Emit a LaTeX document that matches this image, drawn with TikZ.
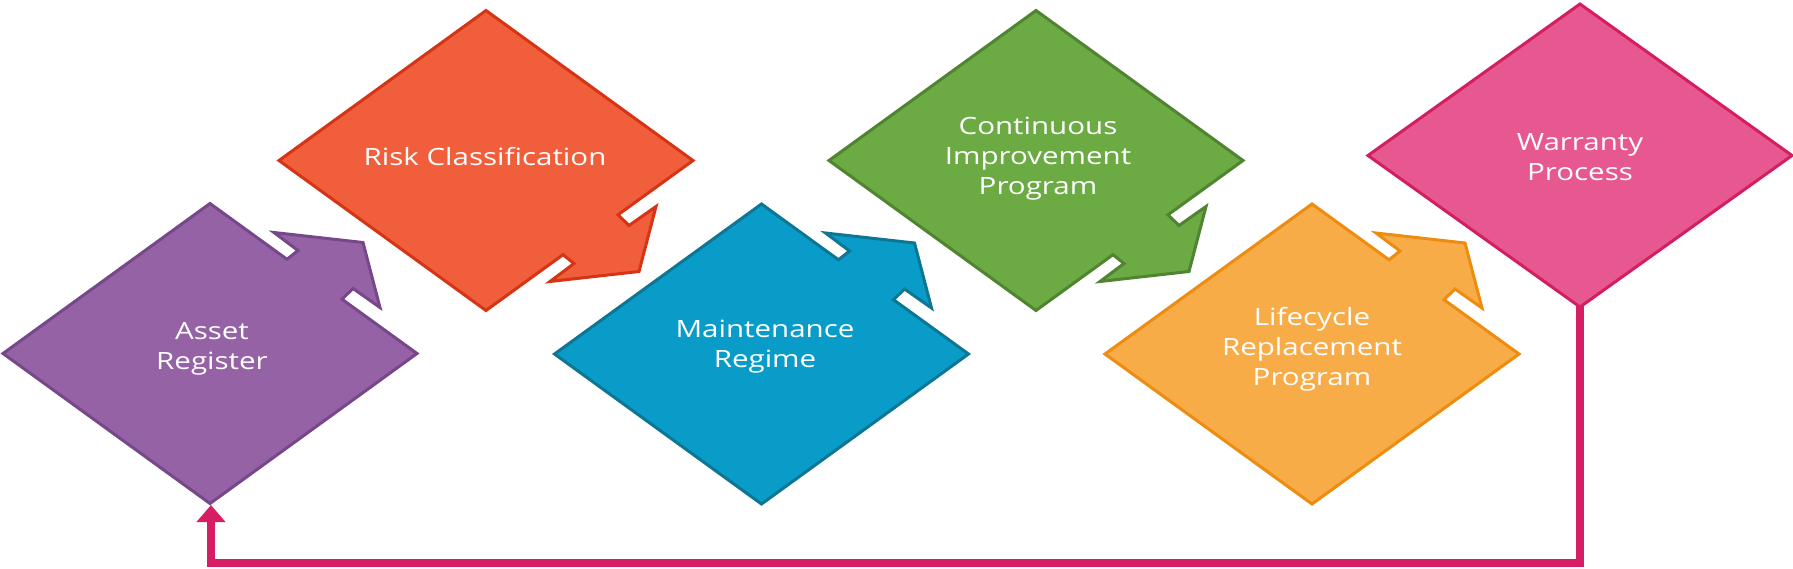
\documentclass[tikz,border=0pt]{standalone}
\usepackage{fontspec}
\newfontfamily\lab[FakeStretch=1.24]{Open Sans}
\usetikzlibrary{arrows.meta}
\definecolor{purpF}{HTML}{9662A6}
\definecolor{purpD}{HTML}{76488A}
\definecolor{redF}{HTML}{F05E3C}
\definecolor{redD}{HTML}{D63414}
\definecolor{blueF}{HTML}{099CC8}
\definecolor{blueD}{HTML}{0C7694}
\definecolor{greenF}{HTML}{6CAA44}
\definecolor{greenD}{HTML}{508430}
\definecolor{orangeF}{HTML}{F8AC48}
\definecolor{orangeD}{HTML}{EE8C10}
\definecolor{pinkF}{HTML}{E85890}
\definecolor{pinkD}{HTML}{D41E62}
\definecolor{connC}{HTML}{D61E64}
\newcommand\arrowshape{(-207,0) -- (0,-150) -- (77,-94.2) -- (88,-103) -- (64,-121) -- (153,-111) -- (170,-46) -- (143,-65) -- (132,-54.3) -- (207,0) -- (0,150) -- cycle}
\begin{document}
\begin{tikzpicture}[x=0.5pt,y=-0.5pt,
  shp/.style={line width=1.5pt, line join=miter},
  lbl/.style={text=white, font=\lab\fontsize{11.9pt}{15pt}\selectfont, align=center, anchor=base, inner sep=0pt},
  conn/.style={connC, line width=4pt, line join=miter, -{Triangle[width=14pt,length=8.5pt]}}]
\useasboundingbox (0,0) rectangle (1793,568);
% connector coordinates
\coordinate (warB) at (1580,295);
\coordinate (c1) at (1580,563);
\coordinate (c2) at (211,563);
\coordinate (assetB) at (211,505);
\draw[conn] (warB) -- (c1) -- (c2) -- (assetB);
% shapes
\draw[shp, fill=purpF, draw=purpD, shift={(210,353.5)}] \arrowshape;
\draw[shp, fill=redF, draw=redD, shift={(486,160.5)}, yscale=-1] \arrowshape;
\draw[shp, fill=blueF, draw=blueD, shift={(761.5,354)}] \arrowshape;
\draw[shp, fill=greenF, draw=greenD, shift={(1036,160.5)}, yscale=-1] \arrowshape;
\draw[shp, fill=orangeF, draw=orangeD, shift={(1312,354)}] \arrowshape;
\draw[shp, fill=pinkF, draw=pinkD] (1368,155.5) -- (1580,4) -- (1792,155.5) -- (1580,307) -- cycle;
% labels (anchor base = baseline of the last line)
\node[lbl] (asset) at (212,369) {Asset\\Register};
\node[lbl] (risk) at (485,165) {Risk Classification};
\node[lbl] (maint) at (765,367) {Maintenance\\Regime};
\node[lbl] (cont) at (1038,194.5) {Continuous\\Improvement\\Program};
\node[lbl] (life) at (1312,385) {Lifecycle\\Replacement\\Program};
\node[lbl] (warr) at (1580,180.5) {Warranty\\Process};
\end{tikzpicture}
\end{document}
